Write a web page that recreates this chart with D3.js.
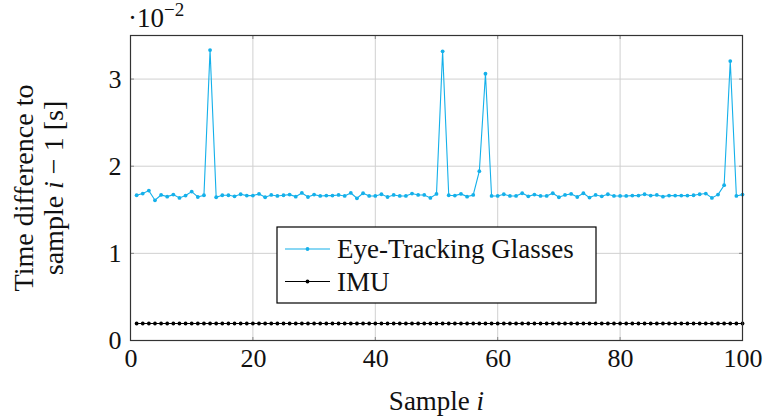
<!DOCTYPE html>
<html><head><meta charset="utf-8">
<script src="https://cdn.jsdelivr.net/npm/d3@7"></script>
<style>
body{margin:0;background:#fff;}
text{font-family:"Liberation Serif","DejaVu Serif",serif;fill:#111;}
</style></head>
<body>
<svg id="chart" width="764" height="418"></svg>
<script>
const samples = d3.range(1, 101);
const eyeTracking = [1.667,1.686,1.72,1.609,1.67,1.651,1.674,1.636,1.663,1.709,
1.647,1.667,3.333,1.644,1.667,1.667,1.655,1.678,1.663,1.663,
1.682,1.644,1.67,1.659,1.667,1.674,1.651,1.693,1.647,1.674,
1.659,1.663,1.663,1.67,1.659,1.693,1.632,1.69,1.659,1.659,
1.678,1.647,1.67,1.659,1.659,1.686,1.67,1.67,1.636,1.682,
3.318,1.667,1.663,1.682,1.651,1.67,1.943,3.061,1.659,1.659,
1.678,1.659,1.659,1.69,1.655,1.674,1.659,1.659,1.69,1.644,
1.67,1.682,1.647,1.69,1.64,1.67,1.655,1.678,1.659,1.659,
1.659,1.663,1.663,1.678,1.663,1.67,1.651,1.663,1.663,1.663,
1.663,1.667,1.678,1.686,1.636,1.674,1.782,3.207,1.659,1.674];
const imu = samples.map(() => 0.195);
const xTicks = [0,20,40,60,80,100];
const yTicks = [0,1,2,3];
const seriesNames = ["Eye-Tracking Glasses","IMU"];

const svg = d3.select("#chart");
const L=130.5, R=742.5, T=35.5, B=340.5;
const x = d3.scaleLinear().domain([0,100]).range([L,R]);
const y = d3.scaleLinear().domain([0,3.5]).range([B,T]);
const cyan = "#14b0ea";
const FS = 27;

// grid
const g = svg.append("g");
g.selectAll(".gx").data(xTicks.slice(1,-1)).join("line")
  .attr("x1",d=>x(d)).attr("x2",d=>x(d)).attr("y1",T).attr("y2",B)
  .attr("stroke","#d0d0d0").attr("stroke-width",1);
g.selectAll(".gy").data(yTicks.slice(1)).join("line")
  .attr("x1",L).attr("x2",R).attr("y1",d=>y(d)).attr("y2",d=>y(d))
  .attr("stroke","#d0d0d0").attr("stroke-width",1);

// inner ticks on all sides
const tk = 3.5, tc = "#888";
xTicks.slice(1,-1).forEach(d=>{
  g.append("line").attr("x1",x(d)).attr("x2",x(d)).attr("y1",B).attr("y2",B-tk).attr("stroke",tc);
  g.append("line").attr("x1",x(d)).attr("x2",x(d)).attr("y1",T).attr("y2",T+tk).attr("stroke",tc);
});
yTicks.slice(1).forEach(d=>{
  g.append("line").attr("x1",L).attr("x2",L+tk).attr("y1",y(d)).attr("y2",y(d)).attr("stroke",tc);
  g.append("line").attr("x1",R).attr("x2",R-tk).attr("y1",y(d)).attr("y2",y(d)).attr("stroke",tc);
});

// axes labels via d3 axes
const xAxis = d3.axisBottom(x).tickValues(xTicks).tickSize(0).tickPadding(8).tickFormat(d3.format("d"));
svg.append("g").attr("transform",`translate(0,${B})`).call(xAxis)
  .call(s=>s.select(".domain").remove())
  .selectAll("text").attr("font-size",26).attr("fill","#111");
const yAxis = d3.axisLeft(y).tickValues(yTicks).tickSize(0).tickPadding(9).tickFormat(d3.format("d"));
svg.append("g").attr("transform",`translate(${L},0)`).call(yAxis)
  .call(s=>s.select(".domain").remove())
  .selectAll("text").attr("font-size",26).attr("fill","#111");

// series
const line = d3.line().x((d,i)=>x(samples[i])).y(d=>y(d));
svg.append("path").datum(imu).attr("d",line).attr("fill","none").attr("stroke","#000").attr("stroke-width",1);
svg.append("g").selectAll("circle").data(imu).join("circle")
  .attr("cx",(d,i)=>x(samples[i])).attr("cy",d=>y(d)).attr("r",1.9).attr("fill","#000");
svg.append("path").datum(eyeTracking).attr("d",line).attr("fill","none").attr("stroke",cyan).attr("stroke-width",1.1);
svg.append("g").selectAll("circle").data(eyeTracking).join("circle")
  .attr("cx",(d,i)=>x(samples[i])).attr("cy",d=>y(d)).attr("r",1.9).attr("fill",cyan);

// frame
svg.append("rect").attr("x",L).attr("y",T).attr("width",R-L).attr("height",B-T)
  .attr("fill","none").attr("stroke","#333").attr("stroke-width",1.2);

// multiplier
const m = svg.append("text").attr("x",128).attr("y",27).attr("font-size",FS);
m.append("tspan").text("·10");
m.append("tspan").attr("dy",-11).attr("font-size",19).text("−2");

// legend
const lg = svg.append("g");
lg.append("rect").attr("x",277).attr("y",227).attr("width",319).attr("height",76)
  .attr("fill","#fff").attr("stroke","#000").attr("stroke-width",1.2);
const legendRows = [{name:seriesNames[0],color:cyan,cy:249},{name:seriesNames[1],color:"#000",cy:281.5}];
legendRows.forEach(r=>{
  lg.append("line").attr("x1",285).attr("x2",330).attr("y1",r.cy).attr("y2",r.cy).attr("stroke",r.color).attr("stroke-width",1.1);
  lg.append("circle").attr("cx",307.5).attr("cy",r.cy).attr("r",1.9).attr("fill",r.color);
  lg.append("text").attr("x",337).attr("y",r.cy+9).attr("font-size",FS).text(r.name);
});

// axis titles
const xt = svg.append("text").attr("x",(L+R)/2).attr("y",410).attr("text-anchor","middle").attr("font-size",FS);
xt.append("tspan").text("Sample ");
xt.append("tspan").attr("font-style","italic").text("i");

const yt = svg.append("text").attr("transform",`translate(0,${(T+B)/2}) rotate(-90)`).attr("text-anchor","middle").attr("font-size",28);
yt.append("tspan").attr("x",0).attr("y",33).text("Time difference to");
const l2 = yt.append("tspan").attr("x",0).attr("y",63);
l2.text("sample ");
yt.append("tspan").attr("font-style","italic").text("i");
yt.append("tspan").text(" − 1 [s]");
</script>
</body></html>
